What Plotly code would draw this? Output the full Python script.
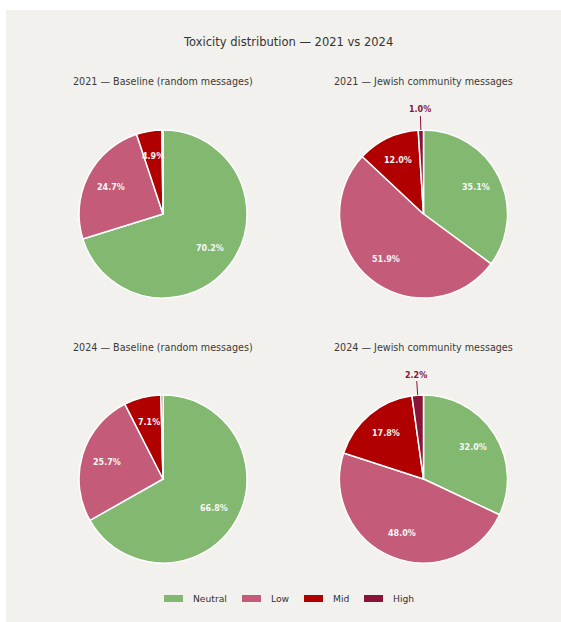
import math
import plotly.graph_objects as go

# ---------------- data ----------------
categories = ["Neutral", "Low", "Mid", "High"]
panel_titles = [
    "2021 — Baseline (random messages)",
    "2021 — Jewish community messages",
    "2024 — Baseline (random messages)",
    "2024 — Jewish community messages",
]
baseline_2021 = [70.2, 24.7, 4.9, 0.2]
jewish_2021 = [35.1, 51.9, 12.0, 1.0]
baseline_2024 = [66.8, 25.7, 7.1, 0.4]
jewish_2024 = [32.0, 48.0, 17.8, 2.2]
main_title = "Toxicity distribution — 2021 vs 2024"

# ---------------- style / layout ----------------
colors = ["#83b870", "#c45c79", "#b10000", "#8a1437"]
BG = "#f2f1ed"
FONT = "DejaVu Sans"
W, H = 561, 622
R = 84
centers = [(163, 214), (423.5, 214), (163, 479), (423.5, 479)]
title_y = [81, 81, 347, 347]


def px(x):
    return x / W


def py(y):
    return 1 - y / H


series = [baseline_2021, jewish_2021, baseline_2024, jewish_2024]

fig = go.Figure()
annotations = []

for vals, (cx, cy), ttl, ty in zip(series, centers, panel_titles, title_y):
    fig.add_trace(go.Pie(
        labels=categories,
        values=vals,
        sort=False,
        direction="clockwise",
        rotation=0,
        marker=dict(colors=colors, line=dict(color="white", width=1.5)),
        textinfo="none",
        showlegend=False,
        domain=dict(x=[px(cx - R), px(cx + R)], y=[py(cy + R), py(cy - R)]),
        hoverinfo="label+percent",
    ))
    annotations.append(dict(
        x=px(cx), y=py(ty), xref="paper", yref="paper", text=ttl,
        showarrow=False, xanchor="center", yanchor="middle",
        font=dict(family=FONT, size=9.6, color="#3a3a3a"),
    ))
    total = sum(vals)
    cum = 0.0
    for v, col in zip(vals, colors):
        theta = 2 * math.pi * (cum + v / 2) / total
        cum += v
        dx, dy = math.sin(theta), -math.cos(theta)
        label = f"<b>{v:.1f}%</b>"
        if v >= 3:
            annotations.append(dict(
                x=px(cx + 0.7 * R * dx), y=py(cy + 0.7 * R * dy),
                xref="paper", yref="paper", text=label, showarrow=False,
                xanchor="center", yanchor="middle",
                font=dict(family=FONT, size=8, color="#f7f7f7"),
            ))
        elif v >= 0.5:
            off = 0.24 * R
            annotations.append(dict(
                x=px(cx + R * dx), y=py(cy + R * dy),
                xref="paper", yref="paper", text=label, showarrow=True,
                arrowhead=0, arrowwidth=1, arrowcolor=col, standoff=0,
                ax=off * dx, ay=off * dy,
                font=dict(family=FONT, size=8, color=col),
            ))

annotations.append(dict(
    x=px(287.5), y=py(42), xref="paper", yref="paper", text=main_title,
    showarrow=False, xanchor="center", yanchor="middle",
    font=dict(family=FONT, size=11.5, color="#333333"),
))

# white page margin on the left and top (the beige card starts at 6,10)
shapes = [
    dict(type="rect", xref="paper", yref="paper", x0=-0.05, x1=px(6),
         y0=-0.05, y1=1.05, fillcolor="white", line=dict(width=0), layer="below"),
    dict(type="rect", xref="paper", yref="paper", x0=-0.05, x1=1.05,
         y0=py(10), y1=1.05, fillcolor="white", line=dict(width=0), layer="below"),
]

# custom legend (wide swatches)
legend_x = [164, 242, 304, 364]
for name, col, lx in zip(categories, colors, legend_x):
    shapes.append(dict(type="rect", xref="paper", yref="paper",
                       x0=px(lx), x1=px(lx + 19), y0=py(602), y1=py(595),
                       fillcolor=col, line=dict(width=0)))
    annotations.append(dict(
        x=px(lx + 27), y=py(598), xref="paper", yref="paper", text=name,
        showarrow=False, xanchor="left", yanchor="middle",
        font=dict(family=FONT, size=9.2, color="#333333"),
    ))

fig.update_layout(
    width=W, height=H,
    margin=dict(l=0, r=0, t=0, b=0),
    paper_bgcolor=BG,
    plot_bgcolor=BG,
    font=dict(family=FONT),
    annotations=annotations,
    shapes=shapes,
)

fig.write_html(
    "out.html",
    config={"displayModeBar": False},
    post_script=("document.documentElement.style.margin='0';"
                 "document.body.style.margin='0';"
                 "document.body.style.overflow='hidden';"),
)
